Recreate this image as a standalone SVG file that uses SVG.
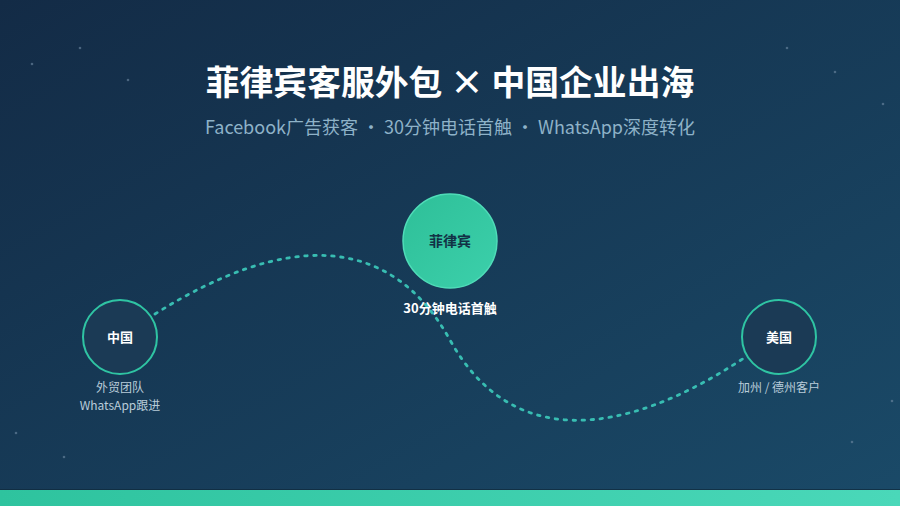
<svg xmlns="http://www.w3.org/2000/svg" width="900" height="506" viewBox="0 0 900 506">
<defs>
<linearGradient id="bg" x1="0" y1="0" x2="1" y2="1">
<stop offset="0" stop-color="#132b46"/>
<stop offset="1" stop-color="#1a4a68"/>
</linearGradient>
<linearGradient id="bar" x1="0" y1="0" x2="1" y2="0">
<stop offset="0" stop-color="#2ec39e"/>
<stop offset="1" stop-color="#4ad8b9"/>
</linearGradient>
<linearGradient id="hub" x1="0" y1="0" x2="1" y2="1">
<stop offset="0" stop-color="#2ebf98"/>
<stop offset="1" stop-color="#3cd0ab"/>
</linearGradient>
<style>
.t{font-family:"Noto Sans CJK SC","Noto Sans",sans-serif;text-anchor:middle}
.title{font-size:33.8px;font-weight:700;fill:#ffffff}
.sub{font-size:18px;fill:#8eb2c8}
.nl{font-size:13px;font-weight:700;fill:#ffffff}
.cap{font-size:12px;fill:#b9ccd9}
.ring{fill:#1b3a55;stroke:#2fc4a3;stroke-width:2}
.star{fill:#6f8aa3;opacity:0.6}
</style>
</defs>
<rect width="900" height="506" fill="url(#bg)"/>
<g id="stars">
<circle class="star" cx="32" cy="64" r="1.3"/>
<circle class="star" cx="80" cy="48" r="1.3"/>
<circle class="star" cx="128" cy="80" r="1.3"/>
<circle class="star" cx="787" cy="48" r="1.3"/>
<circle class="star" cx="835" cy="72" r="1.3"/>
<circle class="star" cx="883" cy="104" r="1.3"/>
<circle class="star" cx="16" cy="433" r="1.3"/>
<circle class="star" cx="64" cy="457" r="1.3"/>
<circle class="star" cx="892" cy="401" r="1.3"/>
<circle class="star" cx="852" cy="442" r="1.3"/>
</g>
<rect x="0" y="489" width="900" height="1.5" fill="#0f2a3a" opacity="0.7"/>
<rect x="0" y="490" width="900" height="16" fill="url(#bar)"/>
<g id="title">
<text class="t title" x="450" y="95">菲律宾客服外包 × 中国企业出海</text>
<text class="t sub" x="450" y="134">Facebook广告获客 · 30分钟电话首触 · WhatsApp深度转化</text>
</g>
<g id="connectors">
<path d="M155 314 C285 232 390 232 450 340 S620 440 744 358" fill="none" stroke="#38bdb2" stroke-width="2.8" stroke-linecap="round" stroke-dasharray="2.5 6.5"/>
</g>
<g id="node-hub">
<circle cx="450" cy="241" r="47" fill="url(#hub)" stroke="#4fdcb8" stroke-width="1.5"/>
<text class="t" x="450" y="246" font-size="14" font-weight="700" fill="#123246">菲律宾</text>
<text class="t nl" x="450" y="313" font-size="12">30分钟电话首触</text>
</g>
<g id="node-china">
<circle class="ring" cx="120" cy="337" r="37"/>
<text class="t nl" x="120" y="342">中国</text>
<text class="t cap" x="120" y="392">外贸团队</text>
<text class="t cap" x="120" y="410">WhatsApp跟进</text>
</g>
<g id="node-usa">
<circle class="ring" cx="779" cy="337" r="37"/>
<text class="t nl" x="779" y="342">美国</text>
<text class="t cap" x="779" y="392">加州 / 德州客户</text>
</g>
</svg>
